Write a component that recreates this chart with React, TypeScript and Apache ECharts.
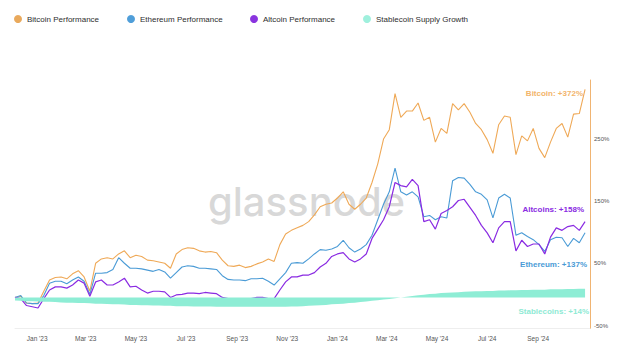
import React, { useEffect, useRef } from "react";
import * as echarts from "echarts";

// weekly samples starting 2022-12-05
const startYear = 2022;
const startMonth = 11;
const startDay = 5;

const bitcoin = [
  0, 2, -9, -10, -9, 10, 28, 32, 33, 30,
  38, 43, 33, 10, 55, 62, 64, 62, 70, 75,
  64, 68, 66, 60, 59, 57, 55, 47, 70, 77,
  80, 79, 75, 73, 74, 72, 60, 51, 50, 52,
  48, 50, 54, 57, 62, 58, 85, 102, 108, 112,
  116, 122, 133, 146, 150, 152, 160, 170, 150, 142,
  150, 160, 185, 215, 255, 270, 328, 290, 300, 300,
  313, 285, 290, 250, 272, 264, 312, 302, 312, 298,
  280, 270, 254, 232, 278, 292, 290, 230, 260, 252,
  272, 240, 225, 250, 272, 280, 258, 295, 296, 335,
];

const ethereum = [
  0, 3, -9, -10, -10, 3, 23, 26, 26, 22,
  28, 33, 26, 5, 39, 39, 40, 45, 64, 55,
  47, 47, 46, 44, 42, 45, 41, 31, 40, 49,
  51, 50, 47, 47, 46, 45, 35, 29, 28, 28,
  27, 30, 30, 31, 26, 20, 30, 40, 55, 56,
  55, 62, 70, 77, 76, 78, 82, 92, 80, 73,
  78, 85, 100, 125, 150, 170, 208, 170, 165, 170,
  162, 130, 132, 125, 130, 128, 188, 193, 192, 182,
  170, 166, 157, 128, 160, 166, 160, 100, 104, 98,
  93, 85, 74, 93, 97, 96, 82, 95, 88, 104,
];

const altcoin = [
  0, -2, -13, -15, -17, -2, 12, 17, 17, 15,
  20, 28, 23, 2, 25, 28, 20, 20, 25, 31,
  17, 18, 12, 7, 10, 10, 9, 0, 4, 5,
  7, 7, 6, 8, 7, 6, 0, -2, -3, -4,
  -2, -2, 0, 0, -2, -2, 12, 25, 33, 33,
  36, 36, 40, 49, 55, 66, 70, 72, 62, 57,
  62, 70, 95, 110, 125, 146, 185, 180, 178, 190,
  180, 122, 125, 110, 135, 140, 146, 156, 158, 145,
  132, 116, 104, 88, 112, 122, 122, 75, 92, 82,
  86, 86, 70, 97, 112, 108, 114, 116, 108, 122,
];

const stablecoin = [
  -5, -5.5, -6, -6, -6.5, -7, -7, -7.5, -8, -8.5,
  -8.5, -9, -9, -9.5, -10, -10, -10.5, -11, -11, -11.5,
  -12, -12, -12.5, -12.5, -13, -13, -13.5, -13.5, -14, -14,
  -14, -14.5, -14.5, -14.5, -14.5, -15, -15, -15, -15, -15,
  -15, -15, -15, -15, -15, -15, -15, -15, -14.5, -14.5,
  -14, -13.5, -13, -12.5, -12, -11, -10.5, -10, -9, -8.5,
  -7.5, -6.5, -5.5, -4.5, -3.5, -2.5, -1.5, 0, 1, 2.5,
  3.5, 4.5, 5.5, 6, 7, 7.5, 8, 8.5, 9, 9.5,
  10, 10, 10.5, 10.5, 11, 11, 11.5, 11.5, 12, 12,
  12.5, 12.5, 12.5, 13, 13, 13, 13.5, 13.5, 14, 14,
];

const seriesNames = [
  "Bitcoin Performance",
  "Ethereum Performance",
  "Altcoin Performance",
  "Stablecoin Supply Growth",
];
const seriesColors = ["#efa957", "#4a9bd6", "#8a2be2", "#8eedd5"];
const legendDotColors = ["#e9a95c", "#4f9ed9", "#8a34df", "#9ff0dd"];

const endLabels = [
  "Bitcoin: +372%",
  "Altcoins: +158%",
  "Ethereum: +137%",
  "Stablecoins: +14%",
];
const endLabelColors = ["#f2b46a", "#8a2be2", "#4a9bd6", "#8eead4"];

const xTickYears = [2023, 2023, 2023, 2023, 2023, 2023, 2024, 2024, 2024, 2024, 2024];
const xTickMonths = [0, 2, 4, 6, 8, 10, 0, 2, 4, 6, 8];
const xTickLabels = [
  "Jan '23", "Mar '23", "May '23", "Jul '23", "Sep '23", "Nov '23",
  "Jan '24", "Mar '24", "May '24", "Jul '24", "Sep '24",
];

const yMin = -50;
const yMax = 350;
const yInterval = 100;

export default function App() {
  const ref = useRef<HTMLDivElement>(null);
  useEffect(() => {
    const chart = echarts.init(ref.current!, null, { renderer: "svg" });
    const dates = bitcoin.map((_, i) =>
      new Date(startYear, startMonth, startDay + 7 * i).getTime()
    );
    const tickValues = xTickYears.map((y, i) => new Date(y, xTickMonths[i], 1).getTime());
    const font = "'Liberation Sans', Arial, sans-serif";
    const legendLefts = [14, 127, 250, 363];
    const labelYs = [93, 209, 264, 311];
    const labelRights = [583, 584, 587, 589];

    const option: any = {
      animation: false,
      backgroundColor: "#ffffff",
      textStyle: { fontFamily: font },
      legend: seriesNames.map((n, i) => ({
        left: legendLefts[i],
        top: 15,
        padding: 0,
        icon: "circle",
        itemWidth: 8,
        itemHeight: 8,
        itemGap: 4,
        selectedMode: false,
        textStyle: { fontSize: 8, color: "#2e2e2e", fontFamily: font },
        data: [{ name: n, itemStyle: { color: legendDotColors[i] } }],
      })),
      grid: { left: 15, right: 30, top: 80, bottom: 24.5 },
      xAxis: {
        type: "value",
        min: new Date(2022, 11, 5).getTime(),
        max: new Date(2024, 10, 3).getTime(),
        axisLine: { show: true, onZero: false, lineStyle: { color: "#eeeeee", width: 1 } },
        axisTick: { show: false },
        splitLine: { show: false },
        axisLabel: {
          customValues: tickValues,
          color: "#555555",
          fontSize: 6.5,
          margin: 6,
          fontFamily: font,
          formatter: (v: number) => {
            const idx = tickValues.indexOf(v);
            return idx >= 0 ? xTickLabels[idx] : "";
          },
        },
      },
      yAxis: {
        type: "value",
        position: "right",
        min: yMin,
        max: yMax,
        interval: yInterval,
        axisLine: { show: true, lineStyle: { color: "#f0b472", width: 1 } },
        axisTick: { show: false },
        splitLine: { show: false },
        axisLabel: {
          showMaxLabel: false,
          color: "#555555",
          fontSize: 6,
          margin: 4,
          verticalAlign: "bottom",
          fontFamily: font,
          formatter: (v: number) => (v === yMax ? "" : v + "%"),
        },
      },
      series: [
        {
          name: seriesNames[0],
          type: "line",
          showSymbol: false,
          data: dates.map((d, i) => [d, bitcoin[i]]),
          lineStyle: { color: seriesColors[0], width: 1.1 },
          itemStyle: { color: seriesColors[0] },
          z: 3,
        },
        {
          name: seriesNames[1],
          type: "line",
          showSymbol: false,
          data: dates.map((d, i) => [d, ethereum[i]]),
          lineStyle: { color: seriesColors[1], width: 1.1 },
          itemStyle: { color: seriesColors[1] },
          z: 3,
        },
        {
          name: seriesNames[2],
          type: "line",
          showSymbol: false,
          data: dates.map((d, i) => [d, altcoin[i]]),
          lineStyle: { color: seriesColors[2], width: 1.2 },
          itemStyle: { color: seriesColors[2] },
          z: 4,
        },
        {
          name: seriesNames[3],
          type: "line",
          showSymbol: false,
          data: dates.map((d, i) => [d, stablecoin[i]]),
          lineStyle: { color: seriesColors[3], width: 0 },
          itemStyle: { color: seriesColors[3] },
          areaStyle: { color: seriesColors[3], opacity: 1 },
          z: 5,
        },
      ],
      graphic: [
        {
          type: "text",
          left: 208,
          top: 181,
          z: 1,
          style: {
            text: "glassnode",
            fontSize: 40,
            fontWeight: 500,
            fontFamily: "Inter, 'Open Sans', sans-serif",
            fill: "rgba(190,190,190,0.6)",
          },
        },
        ...endLabels.map((t, i) => ({
          type: "text",
          x: labelRights[i],
          y: labelYs[i],
          z: 10,
          style: {
            text: t,
            fontSize: 8,
            fontWeight: "bold",
            fontFamily: font,
            fill: endLabelColors[i],
            align: "right",
            verticalAlign: "middle",
          },
        })),
      ],
    };
    chart.setOption(option);
    return () => chart.dispose();
  }, []);
  return (
    <div
      ref={ref}
      style={{ position: "fixed", left: 0, top: 0, width: 620, height: 353 }}
    />
  );
}
